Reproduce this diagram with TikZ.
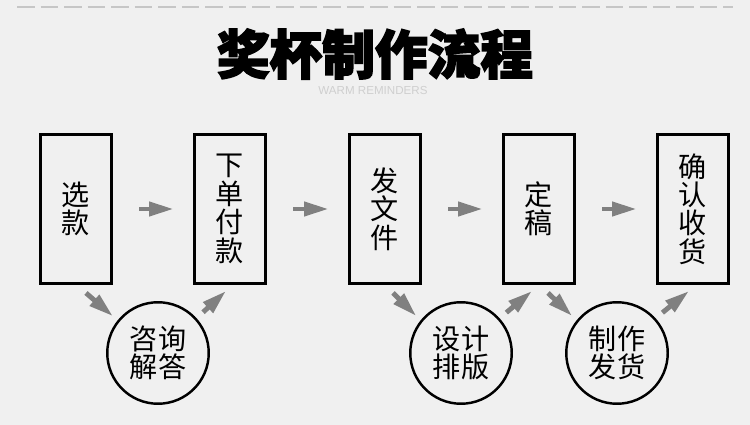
\documentclass[tikz,border=0pt]{standalone}
\usepackage{fontspec}
\newfontfamily\cjk{Noto Sans CJK SC}
\newfontfamily\cjkheavy[FakeBold=3]{Noto Sans CJK SC}
\newfontfamily\notefont{Liberation Sans}
\definecolor{bgpaper}{HTML}{F0F0F0}
\definecolor{arrowgray}{HTML}{808080}
\definecolor{rulegray}{HTML}{C6C6C6}
\definecolor{notegray}{HTML}{CFCFCF}
\usetikzlibrary{arrows.meta, calc, positioning}

\begin{document}
\begin{tikzpicture}[x=0.02cm, y=-0.02cm,
	stepbox/.style={draw, line width=1.7pt, minimum width=1.42cm, minimum height=2.98cm, inner sep=0pt, align=center, font=\cjk\fontsize{16}{16.2}\selectfont},
	talk/.style={circle, draw, line width=1.4pt, minimum size=2.03cm, inner sep=0pt, align=center, font=\cjk\fontsize{16}{16.2}\selectfont},
	flow/.style={draw=arrowgray, line width=2.8pt, -{Triangle[length=14pt,width=7.8pt]}}]
			\useasboundingbox (0,0) rectangle (750,425);
			\fill[bgpaper] (0,0) rectangle (750,425);
			% Header
			\draw[rulegray, line width=1pt, dash pattern=on 10pt off 3.4pt] (17,7) -- (733,7);
			\node (title) at (375,54) {\cjkheavy\bfseries\fontsize{30}{30}\selectfont 奖杯制作流程};
			\node (note) at (373,91) {\notefont\fontsize{6.6}{7}\selectfont\color{notegray}WARM REMINDERS};
			
			% Steps
			\node[stepbox] (xuan) at (76,209) {选\\款};
			\node[stepbox] (xiadan) at (230,209) {下\\单\\付\\款};
			\node[stepbox] (wenjian) at (385,209) {发\\文\\件};
			\node[stepbox] (dinggao) at (539,209) {定\\稿};
			\node[stepbox] (queren) at (693,209) {确\\认\\收\\货};
			
			% Side steps
			\node[talk] (zixun) at (158,353) {咨询\\解答};
			\node[talk] (sheji) at (461,353) {设计\\排版};
			\node[talk] (zhizuo) at (617,353) {制作\\发货};
			
			% Main flow
			\draw[flow, shorten <=15pt, shorten >=11pt] (xuan) -- (xiadan);
			\draw[flow, shorten <=15pt, shorten >=11pt] (xiadan) -- (wenjian);
			\draw[flow, shorten <=15pt, shorten >=11pt] (wenjian) -- (dinggao);
			\draw[flow, shorten <=15pt, shorten >=11pt] (dinggao) -- (queren);
			
			% Detours
			\draw[flow, shorten >=3.5pt] ([shift={(10,8)}]xuan.south) -- (zixun.141);
			\draw[flow, shorten <=5pt] (zixun.42) -- ([shift={(-4,6)}]xiadan.south);
			\draw[flow, shorten >=3.5pt] ([shift={(8,8)}]wenjian.south) -- (sheji.141);
			\draw[flow, shorten <=5pt] (sheji.42) -- ([shift={(-7,6)}]dinggao.south);
			\draw[flow, shorten >=3.5pt] ([shift={(9,8)}]dinggao.south) -- (zhizuo.141);
			\draw[flow, shorten <=5pt] (zhizuo.42) -- ([shift={(-4,6)}]queren.south);
			
		\end{tikzpicture}
\end{document}
